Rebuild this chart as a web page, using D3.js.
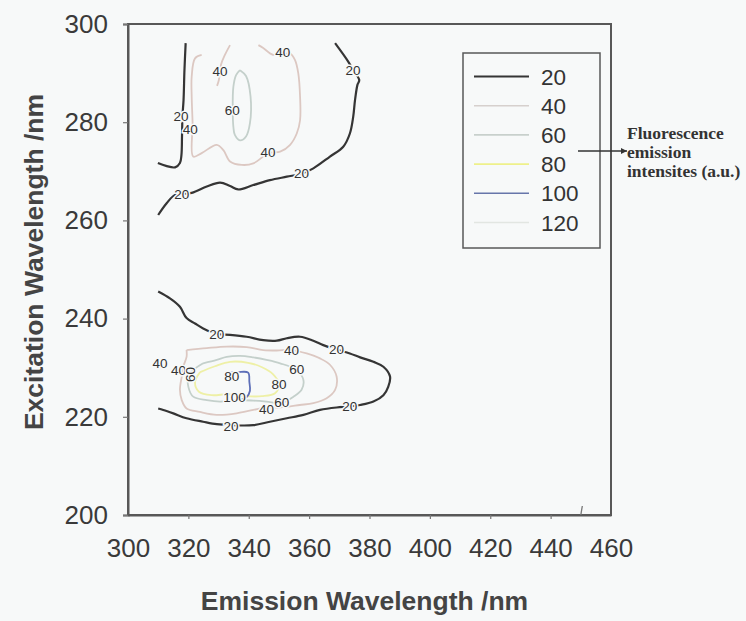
<!DOCTYPE html>
<html>
<head>
<meta charset="utf-8">
<script src="https://cdn.jsdelivr.net/npm/d3@7/dist/d3.min.js"></script>
<style>
  html, body { margin: 0; padding: 0; background: #f7f9f9; }
  svg { display: block; }
</style>
</head>
<body>
<svg id="chart" width="746" height="621"></svg>
<script>
// Excitation-emission contour map: emission (x, nm) vs excitation (y, nm)

const xTicks = [300, 320, 340, 360, 380, 400, 420, 440, 460];
const yTicks = [200, 220, 240, 260, 280, 300];

const levels = [20, 40, 60, 80, 100, 120];
const levelColors = ["#353535", "#dcc8c2", "#c4d0cb", "#eef0a6", "#5d6fb8", "#e0e5e0"];
const legendColors = ["#353535", "#d6d0cd", "#c8d0cc", "#eef08a", "#6776aa", "#e2e6e2"];

// contour traces, [emission nm, excitation nm]
// upper peak
const upper20a = [[319.1,296.1],[318.7,290.6],[318.4,284.5],[318.05,281.3],[317.9,277.4],[317.7,273.3],[317.2,271.7],[315.6,270.8],[312.6,271.1],[309.9,271.7]];
const upper20b = [[310.0,261.1],[312.8,263.5],[315.6,265.2],[321.1,265.6],[326.1,266.9],[330.5,267.7],[333.8,267.0],[336.5,266.3],[341.5,267.2],[347.0,268.2],[352.6,268.9],[357.5,269.5],[361.4,270.6],[366.9,273.0],[371.3,275.0],[373.5,277.7],[374.6,281.1],[375.2,284.5],[376.0,287.6],[376.6,288.6],[374.6,290.6],[373.0,292.3],[368.6,296.1]];
const upper40a = [[324.4,293.7],[322.2,293.0],[321.1,289.3],[321.1,285.2],[321.4,279.8],[321.6,273.0],[324.4,273.7],[329.4,275.4],[331.6,274.3],[333.8,272.0],[337.7,271.3],[341.5,271.6],[344.8,273.0],[347.0,273.8],[350.4,274.0],[353.7,275.4],[355.9,277.7],[357.0,280.4],[357.0,285.2],[356.4,290.0],[355.3,292.7],[353.7,294.0],[351.2,293.8],[348.1,293.7],[344.8,295.1],[343.2,295.7]];
const upper40b = [[333.8,295.7],[332.1,293.7],[330.8,291.7],[330.1,288.6],[329.5,287.4]];
const upper60 = [[337.1,290.6],[339.1,289.4],[340.6,285.2],[340.4,279.8],[339.1,277.1],[337.1,276.3],[335.4,277.4],[334.9,279.1],[334.7,282.5],[334.9,287.2],[335.8,289.6],[337.1,290.6]];

// lower peak
const lower20 = [[310.0,245.5],[313.9,244.1],[317.2,242.4],[319.4,240.1],[322.2,239.0],[324.9,238.0],[329.4,236.9],[333.8,236.7],[339.3,236.3],[344.8,235.6],[349.3,235.5],[352.6,236.0],[357.0,236.3],[361.4,235.5],[364.7,234.6],[369.1,233.7],[373.5,232.9],[376.9,232.1],[381.3,231.2],[384.6,230.2],[386.8,228.2],[386.2,226.1],[384.6,224.4],[381.3,223.1],[376.9,222.4],[373.5,222.1],[369.1,221.9],[363.6,221.4],[358.1,220.4],[352.6,219.7],[347.0,219.0],[341.5,218.3],[333.8,218.3],[329.4,218.5],[324.9,219.0],[319.4,219.7],[315.0,220.7],[311.7,221.4],[310.0,221.7]];
const lower40 = [[319.4,233.6],[326.1,234.0],[332.7,234.3],[339.3,234.2],[344.8,233.6],[349.3,233.5],[354.2,233.6],[359.2,232.9],[363.6,231.9],[366.9,230.6],[369.1,228.2],[368.6,225.5],[365.8,223.8],[361.4,222.8],[356.9,222.4],[350.4,221.9],[345.9,221.9],[341.5,221.4],[336.0,220.7],[329.4,220.4],[323.8,221.0],[319.4,221.7],[317.8,223.4],[317.2,225.5],[317.8,228.2],[318.3,230.2],[319.4,232.2],[319.4,233.6]];
const lower60 = [[324.9,230.9],[329.4,231.6],[332.7,232.2],[337.1,232.4],[341.5,232.1],[345.9,231.6],[350.4,230.9],[355.9,229.5],[358.1,227.5],[357.5,225.5],[354.8,224.1],[350.9,222.8],[345.9,223.1],[341.5,223.3],[336.0,223.4],[330.5,223.1],[326.1,223.4],[321.6,224.1],[320.0,226.1],[320.0,228.2],[321.6,229.5],[324.9,230.9]];
const lower80 = [[323.9,229.1],[328.8,230.3],[333.8,231.2],[339.8,231.0],[344.4,230.1],[348.0,228.7],[350.0,226.7],[348.7,224.8],[344.4,224.2],[338.8,224.2],[333.1,224.6],[327.8,224.4],[323.5,225.1],[322.2,227.1],[323.9,229.1]];
const lower100 = [[333.5,229.0],[336.4,229.1],[339.8,229.0],[340.2,227.1],[340.4,225.3],[339.3,224.0],[337.4,223.5]];

const contourLines = [
  { level: 20, pts: upper20a }, { level: 20, pts: upper20b },
  { level: 40, pts: upper40a }, { level: 40, pts: upper40b },
  { level: 60, pts: upper60 },
  { level: 20, pts: lower20 }, { level: 40, pts: lower40 },
  { level: 60, pts: lower60 }, { level: 80, pts: lower80 },
  { level: 100, pts: lower100 }
];

// inline contour labels: [emission, excitation, text, rotation]
const contourLabels = [
  [317.6, 281.3, "20", 0], [320.6, 278.5, "40", 0], [330.5, 290.4, "40", 0],
  [351.3, 294.3, "40", 0], [334.5, 282.5, "60", 0], [346.4, 273.9, "40", 0],
  [317.8, 265.4, "20", 0], [357.5, 269.5, "20", 0], [374.5, 290.6, "20", 0],
  [329.4, 236.9, "20", 0], [369.1, 233.7, "20", 0], [373.5, 222.1, "20", 0],
  [334.1, 218.1, "20", 0], [354.2, 233.6, "40", 0], [345.9, 221.6, "40", 0],
  [310.6, 231.0, "40", 0], [316.7, 229.5, "40", 0], [320.6, 228.6, "60", -90],
  [355.9, 229.6, "60", 0], [350.9, 222.9, "60", 0], [350.0, 226.7, "80", 0],
  [334.4, 228.2, "80", 0], [335.3, 224.0, "100", 0]
];

const calloutLines = ["Fluorescence", "emission", "intensites (a.u.)"];

const svg = d3.select("#chart");
const x = d3.scaleLinear().domain([300, 460]).range([128, 611]);
const y = d3.scaleLinear().domain([200, 300]).range([515, 24]);
const color = d3.scaleOrdinal().domain(levels).range(levelColors);
const bg = "#f7f9f9";

// frame
svg.append("rect")
  .attr("x", x(300)).attr("y", y(300))
  .attr("width", x(460) - x(300)).attr("height", y(200) - y(300))
  .attr("fill", "none").attr("stroke", "#585858").attr("stroke-width", 2);

// contour lines
const line = d3.line().x(d => x(d[0])).y(d => y(d[1])).curve(d3.curveCatmullRom.alpha(0.5));
svg.append("g").selectAll("path").data(contourLines).join("path")
  .attr("d", d => line(d.pts))
  .attr("fill", "none")
  .attr("stroke", d => color(d.level))
  .attr("stroke-width", d => d.level === 20 ? 2.2 : 1.8)
  .attr("stroke-linejoin", "round");

// contour labels with background halo to break the lines
svg.append("g").selectAll("text").data(contourLabels).join("text")
  .attr("transform", d => `translate(${x(d[0])},${y(d[1])}) rotate(${d[3]})`)
  .attr("text-anchor", "middle").attr("dy", "0.35em")
  .attr("font-family", "Liberation Sans, Arial, sans-serif")
  .attr("font-size", 13.5)
  .attr("fill", "#333")
  .attr("stroke", bg).attr("stroke-width", 3).attr("paint-order", "stroke")
  .text(d => d[2]);

// axes
const axisFont = "Liberation Sans, Arial, sans-serif";
const gx = svg.append("g").attr("transform", `translate(0,${y(200)})`)
  .call(d3.axisBottom(x).tickValues(xTicks).tickSize(4).tickSizeOuter(0).tickPadding(20));
const gy = svg.append("g").attr("transform", `translate(${x(300)},0)`)
  .call(d3.axisLeft(y).tickValues(yTicks).tickSize(5).tickSizeOuter(5).tickPadding(15));
[gx, gy].forEach(g => {
  g.select(".domain").attr("stroke", "#585858").attr("stroke-width", 2);
  g.selectAll(".tick line").attr("stroke", "#777").attr("stroke-width", 1.2);
  g.selectAll(".tick text").attr("font-family", axisFont).attr("font-size", 26).attr("fill", "#3a3a3a");
});
gx.selectAll(".tick").filter(d => d === 300 || d === 460).select("line").remove();

// small stray stroke above the axis near 450 nm
svg.append("line")
  .attr("x1", x(450) + 1.5).attr("y1", y(200) - 9)
  .attr("x2", x(450)).attr("y2", y(200))
  .attr("stroke", "#777").attr("stroke-width", 1.3);

// axis titles
svg.append("text")
  .attr("x", (x(300) + x(460)) / 2 - 5).attr("y", 610)
  .attr("text-anchor", "middle")
  .attr("font-family", axisFont).attr("font-weight", "bold").attr("font-size", 26.5)
  .attr("fill", "#444").text("Emission Wavelength /nm");
svg.append("text")
  .attr("transform", `translate(43,262) rotate(-90)`)
  .attr("text-anchor", "middle")
  .attr("font-family", axisFont).attr("font-weight", "bold").attr("font-size", 26.5)
  .attr("fill", "#444").text("Excitation Wavelength /nm");

// legend
const lg = svg.append("g");
lg.append("rect").attr("x", 463).attr("y", 53).attr("width", 137).attr("height", 195)
  .attr("fill", "none").attr("stroke", "#585858").attr("stroke-width", 1.5);
const rows = lg.selectAll("g.row").data(levels).join("g").attr("class", "row")
  .attr("transform", (d, i) => `translate(0,${76.5 + i * 29.2})`);
rows.append("line").attr("x1", 474).attr("x2", 529)
  .attr("stroke", (d, i) => legendColors[i])
  .attr("stroke-width", d => d === 20 ? 1.8 : 1.6);
rows.append("text").attr("x", 541).attr("dy", "0.36em")
  .attr("font-family", axisFont).attr("font-size", 22.5).attr("fill", "#333")
  .text(d => d);

// callout arrow and note
const defs = svg.append("defs");
defs.append("marker").attr("id", "arrowhead")
  .attr("viewBox", "0 0 10 10").attr("refX", 10).attr("refY", 5)
  .attr("markerWidth", 7).attr("markerHeight", 6).attr("markerUnits", "userSpaceOnUse")
  .attr("orient", "auto")
  .append("path").attr("d", "M0,0 L10,5 L0,10 z").attr("fill", "#333");
svg.append("line").attr("x1", 578).attr("y1", 151).attr("x2", 627).attr("y2", 151)
  .attr("stroke", "#333").attr("stroke-width", 1.5).attr("marker-end", "url(#arrowhead)");
svg.append("g").selectAll("text").data(calloutLines).join("text")
  .attr("x", 627).attr("y", (d, i) => 138.5 + i * 19)
  .attr("font-family", "'Liberation Serif', 'Times New Roman', serif")
  .attr("font-weight", "bold").attr("font-size", 17.5).attr("fill", "#333")
  .text(d => d);
</script>
</body>
</html>
